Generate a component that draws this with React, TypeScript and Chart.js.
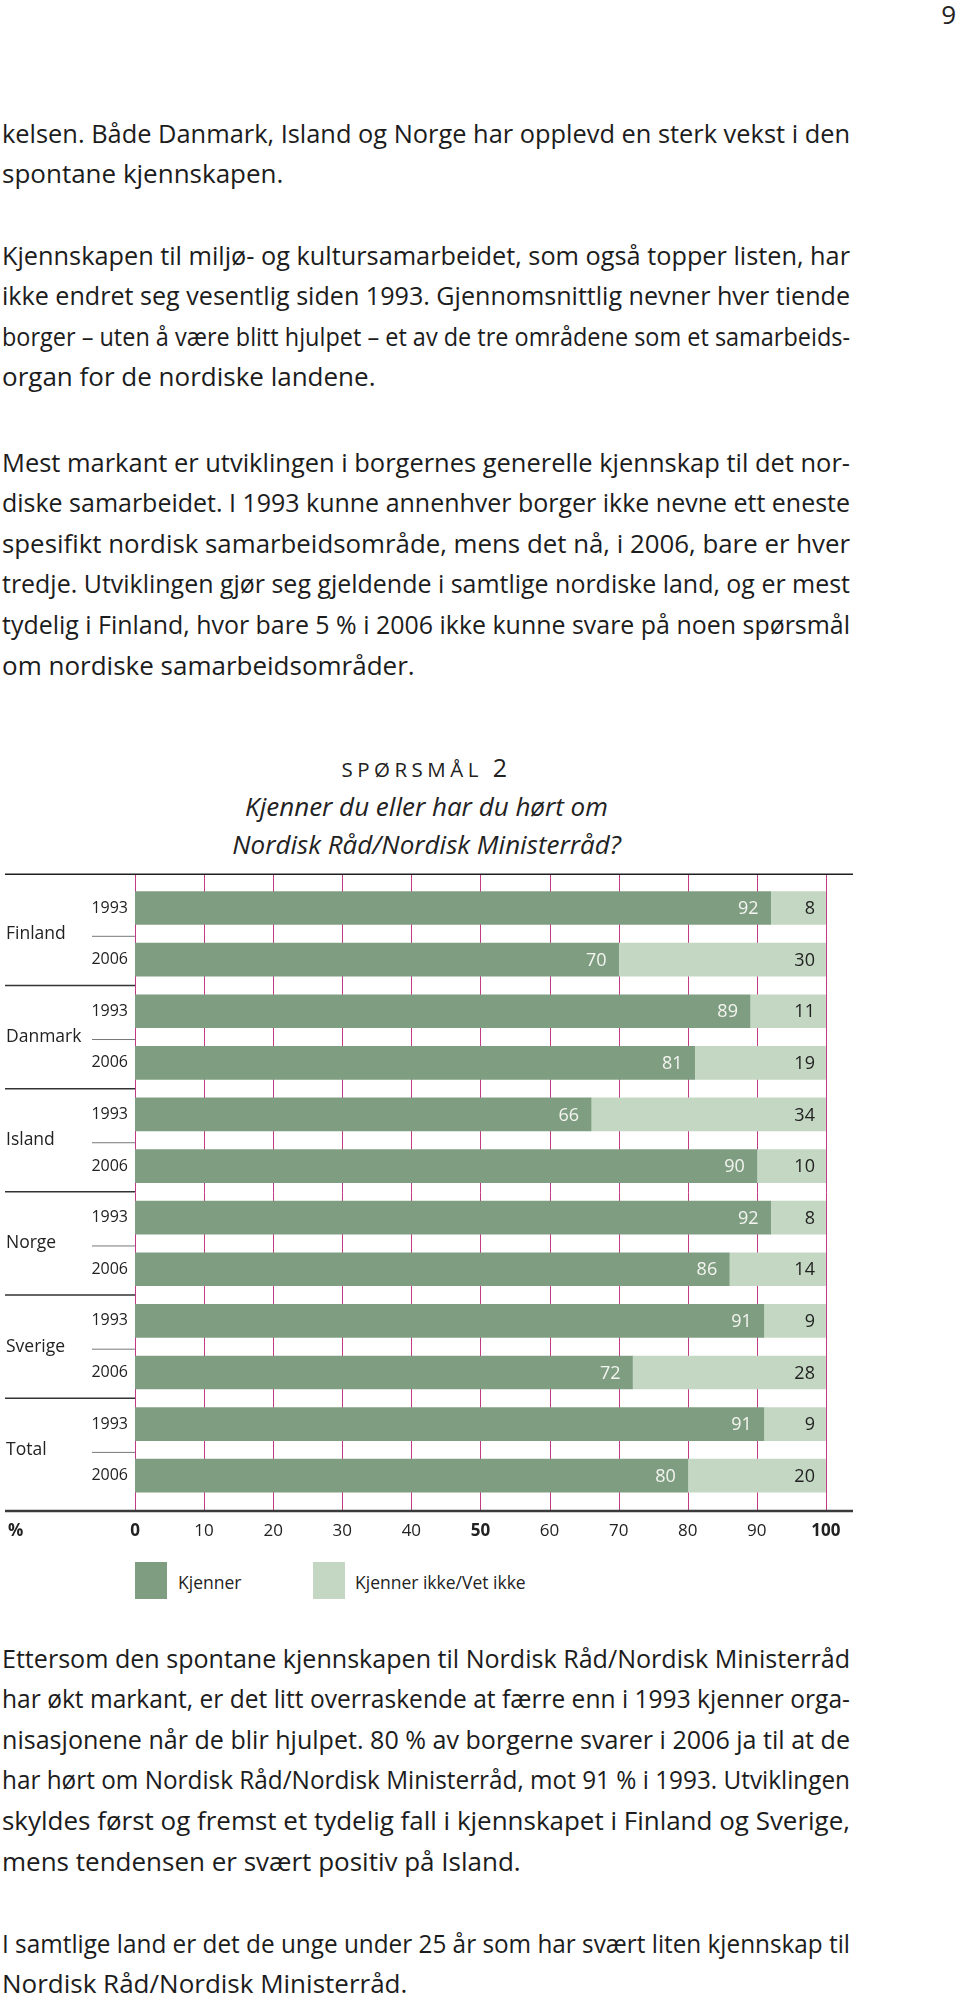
import React, { useEffect, useLayoutEffect, useRef } from "react";
import { Chart, registerables } from "chart.js";

Chart.register(...registerables);

const countries = ["Finland", "Danmark", "Island", "Norge", "Sverige", "Total"];
const yearLabels = ["1993", "2006", "1993", "2006", "1993", "2006", "1993", "2006", "1993", "2006", "1993", "2006"];
const kjenner = [92, 70, 89, 81, 66, 90, 92, 86, 91, 72, 91, 80];
const kjennerIkke = [8, 30, 11, 19, 34, 10, 8, 14, 9, 28, 9, 20];
const seriesNames = ["Kjenner", "Kjenner ikke/Vet ikke"];
const boldTicks = [0, 50, 100];

const DARK = "#7f9e81";
const LIGHT = "#c3d7c3";
const GRID = "#c23a86";
const CHART_FONT = "'Open Sans', sans-serif";
const BODY_FONT = "'Open Sans', sans-serif";

const para1 = [
  "kelsen. Både Danmark, Island og Norge har opplevd en sterk vekst i den",
  "spontane kjennskapen.",
];
const para2 = [
  "Kjennskapen til miljø- og kultursamarbeidet, som også topper listen, har",
  "ikke endret seg vesentlig siden 1993. Gjennomsnittlig nevner hver tiende",
  "borger – uten å være blitt hjulpet – et av de tre områdene som et samarbeids-",
  "organ for de nordiske landene.",
];
const para3 = [
  "Mest markant er utviklingen i borgernes generelle kjennskap til det nor-",
  "diske samarbeidet. I 1993 kunne annenhver borger ikke nevne ett eneste",
  "spesifikt nordisk samarbeidsområde, mens det nå, i 2006, bare er hver",
  "tredje. Utviklingen gjør seg gjeldende i samtlige nordiske land, og er mest",
  "tydelig i Finland, hvor bare 5 % i 2006 ikke kunne svare på noen spørsmål",
  "om nordiske samarbeidsområder.",
];
const para4 = [
  "Ettersom den spontane kjennskapen til Nordisk Råd/Nordisk Ministerråd",
  "har økt markant, er det litt overraskende at færre enn i 1993 kjenner orga-",
  "nisasjonene når de blir hjulpet. 80 % av borgerne svarer i 2006 ja til at de",
  "har hørt om Nordisk Råd/Nordisk Ministerråd, mot 91 % i 1993. Utviklingen",
  "skyldes først og fremst et tydelig fall i kjennskapet i Finland og Sverige,",
  "mens tendensen er svært positiv på Island.",
];
const para5 = [
  "I samtlige land er det de unge under 25 år som har svært liten kjennskap til",
  "Nordisk Råd/Nordisk Ministerråd.",
];

const LH = 40.6;
const TW = 848;

function Line({ text, justify }: { text: string; justify: boolean }) {
  const ref = useRef<HTMLSpanElement>(null);
  useLayoutEffect(() => {
    const el = ref.current;
    if (!el) return;
    el.style.whiteSpace = "nowrap";
    el.style.display = "inline-block";
    const w = el.getBoundingClientRect().width;
    if (w > TW) {
      el.style.transformOrigin = "0 50%";
      el.style.transform = `scaleX(${TW / w})`;
    } else {
      el.style.display = "inline";
      el.style.whiteSpace = "normal";
    }
  }, [text]);
  return (
    <div
      style={{
        width: TW,
        height: LH,
        textAlign: "justify",
        textAlignLast: justify ? "justify" : "left",
      }}
    >
      <span ref={ref}>{text}</span>
    </div>
  );
}

function Para({ lines, centerY }: { lines: string[]; centerY: number }) {
  return (
    <div
      style={{
        position: "absolute",
        left: 2,
        top: centerY - LH / 2,
        width: TW,
        fontFamily: BODY_FONT,
        fontSize: 26,
        lineHeight: LH + "px",
        color: "#1c1c1c",
      }}
    >
      {lines.map((l, i) => (
        <Line key={i} text={l} justify={i !== lines.length - 1} />
      ))}
    </div>
  );
}

const overlayPlugin = {
  id: "overlay",
  beforeDatasetsDraw(chart: any) {
    const { ctx, chartArea } = chart;
    const x = chart.scales.x;
    const top = chartArea.top - 8;
    const bottom = chartArea.bottom + 9.5;
    ctx.save();
    ctx.strokeStyle = GRID;
    ctx.lineWidth = 1;
    for (let v = 0; v <= 100; v += 10) {
      const px = Math.round(x.getPixelForValue(v)) + 0.5;
      ctx.beginPath();
      ctx.moveTo(px, top);
      ctx.lineTo(px, bottom);
      ctx.stroke();
    }
    ctx.restore();
  },
  afterDatasetsDraw(chart: any) {
    const { ctx, chartArea } = chart;
    const x = chart.scales.x;
    const y = chart.scales.y;
    const top = chartArea.top - 8;
    const bottom = chartArea.bottom + 9.5;
    ctx.save();
    ctx.strokeStyle = "#1e1e1e";
    ctx.lineWidth = 1.6;
    ctx.beginPath();
    ctx.moveTo(5, top);
    ctx.lineTo(853, top);
    ctx.stroke();
    ctx.strokeStyle = "#3a3a3a";
    ctx.lineWidth = 2.4;
    ctx.beginPath();
    ctx.moveTo(5, bottom);
    ctx.lineTo(853, bottom);
    ctx.stroke();
    countries.forEach((c, g) => {
      const y0 = y.getPixelForValue(2 * g);
      const y1 = y.getPixelForValue(2 * g + 1);
      const mid = (y0 + y1) / 2;
      ctx.fillStyle = "#222";
      ctx.font = `17.5px ${CHART_FONT}`;
      ctx.textAlign = "left";
      ctx.textBaseline = "middle";
      ctx.fillText(c, 6, mid);
      ctx.strokeStyle = "#777";
      ctx.lineWidth = 1;
      ctx.beginPath();
      ctx.moveTo(92, mid + 2.5);
      ctx.lineTo(x.getPixelForValue(0), mid + 2.5);
      ctx.stroke();
      if (g < countries.length - 1) {
        const yn = y.getPixelForValue(2 * g + 2);
        const sep = (y1 + yn) / 2;
        ctx.strokeStyle = "#333";
        ctx.lineWidth = 1.5;
        ctx.beginPath();
        ctx.moveTo(5, sep);
        ctx.lineTo(x.getPixelForValue(0), sep);
        ctx.stroke();
      }
    });
    ctx.font = `18px ${CHART_FONT}`;
    ctx.textAlign = "right";
    ctx.textBaseline = "middle";
    chart.data.datasets.forEach((ds: any, di: number) => {
      const meta = chart.getDatasetMeta(di);
      meta.data.forEach((el: any, i: number) => {
        const val = ds.data[i];
        ctx.fillStyle = di === 0 ? "#f4f4f0" : "#222";
        const off = di === 0 ? 12 : 11;
        ctx.fillText(String(val), el.x - off, el.y + 1);
      });
    });
    ctx.font = `bold 17px ${CHART_FONT}`;
    ctx.fillStyle = "#222";
    ctx.textAlign = "left";
    ctx.fillText("%", 8, chartArea.bottom + 30);
    ctx.restore();
  },
};

function BarChart() {
  const ref = useRef<HTMLCanvasElement>(null);
  useEffect(() => {
    if (!ref.current) return;
    const chart = new Chart(ref.current, {
      type: "bar",
      data: {
        labels: yearLabels,
        datasets: [
          { label: seriesNames[0], data: kjenner, backgroundColor: DARK, barThickness: 33 },
          { label: seriesNames[1], data: kjennerIkke, backgroundColor: LIGHT, barThickness: 33 },
        ],
      },
      options: {
        indexAxis: "y",
        animation: false,
        responsive: false,
        maintainAspectRatio: false,
        layout: { padding: { top: 22.2, bottom: 18.5, left: 0, right: 23 } },
        plugins: { legend: { display: false }, tooltip: { enabled: false } },
        scales: {
          x: {
            stacked: true,
            min: 0,
            max: 100,
            grid: { display: false, drawTicks: false },
            border: { display: false },
            ticks: {
              stepSize: 10,
              padding: 19.5,
              color: "#222",
              font: (c: any) => ({
                family: CHART_FONT,
                size: 17,
                weight: boldTicks.includes(c.tick?.value) ? "bold" : "normal",
              }),
            },
            afterFit: (s: any) => {
              s.height = 40;
            },
          },
          y: {
            stacked: true,
            grid: { display: false, drawTicks: false },
            border: { display: false },
            ticks: { padding: 7, color: "#222", font: { family: CHART_FONT, size: 16 } },
            afterFit: (s: any) => {
              s.width = 135;
            },
          },
        },
      },
      plugins: [overlayPlugin],
    });
    return () => chart.destroy();
  }, []);
  return (
    <canvas
      ref={ref}
      width={860}
      height={700}
      style={{ position: "absolute", left: 0, top: 860, width: 860, height: 700 }}
    />
  );
}

function LegendItem({ color, label, x, tx }: { color: string; label: string; x: number; tx: number }) {
  return (
    <>
      <div style={{ position: "absolute", left: x, top: 1562, width: 32, height: 37, background: color }} />
      <div
        style={{
          position: "absolute",
          left: tx,
          top: 1570,
          fontFamily: CHART_FONT,
          fontSize: 17.5,
          lineHeight: "24px",
          color: "#222",
          whiteSpace: "nowrap",
        }}
      >
        {label}
      </div>
    </>
  );
}

export default function App() {
  useLayoutEffect(() => {
    document.body.style.margin = "0";
  }, []);
  return (
    <div style={{ position: "relative", width: 960, height: 2003, background: "#fff", overflow: "hidden" }}>
      <div
        style={{
          position: "absolute",
          right: 4,
          top: -1,
          fontFamily: BODY_FONT,
          fontSize: 26,
          lineHeight: "30px",
          color: "#222",
        }}
      >
        9
      </div>
      <Para lines={para1} centerY={133} />
      <Para lines={para2} centerY={255} />
      <Para lines={para3} centerY={462} />
      <div
        style={{
          position: "absolute",
          left: 0,
          width: 853,
          top: 752,
          textAlign: "center",
          fontFamily: CHART_FONT,
          color: "#222",
          lineHeight: "30px",
          letterSpacing: "4.5px",
        }}
      >
        <span style={{ fontSize: 20.5 }}>SPØRSMÅL </span>
        <span style={{ fontSize: 25 }}>2</span>
      </div>
      <div
        style={{
          position: "absolute",
          left: 0,
          width: 853,
          top: 787,
          textAlign: "center",
          fontFamily: BODY_FONT,
          fontStyle: "italic",
          fontSize: 26,
          lineHeight: "38px",
          color: "#222",
        }}
      >
        <div>Kjenner du eller har du hørt om</div>
        <div>Nordisk Råd/Nordisk Ministerråd?</div>
      </div>
      <BarChart />
      <LegendItem color={DARK} label={seriesNames[0]} x={135} tx={178} />
      <LegendItem color={LIGHT} label={seriesNames[1]} x={313} tx={355} />
      <Para lines={para4} centerY={1658} />
      <Para lines={para5} centerY={1943} />
    </div>
  );
}
